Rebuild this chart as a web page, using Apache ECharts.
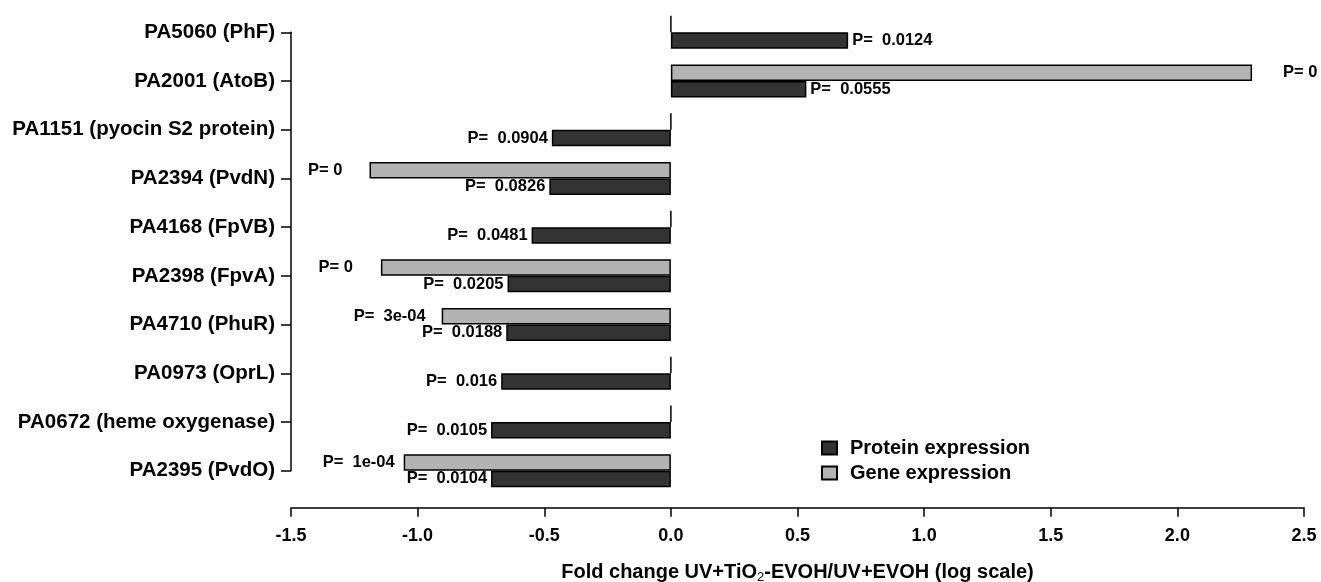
<!DOCTYPE html>
<html>
<head>
<meta charset="utf-8">
<script src="https://cdn.jsdelivr.net/npm/echarts@6/dist/echarts.min.js"></script>
<style>
html,body{margin:0;padding:0;background:#fff;}
#c{width:1321px;height:582px;}
</style>
</head>
<body>
<div id="c"></div>
<script>
var categories = ['PA5060 (PhF)', 'PA2001 (AtoB)', 'PA1151 (pyocin S2 protein)', 'PA2394 (PvdN)', 'PA4168 (FpVB)', 'PA2398 (FpvA)', 'PA4710 (PhuR)', 'PA0973 (OprL)', 'PA0672 (heme oxygenase)', 'PA2395 (PvdO)'];
var proteinValues = [0.70, 0.535, -0.47, -0.48, -0.55, -0.645, -0.65, -0.67, -0.71, -0.71];
var geneValues = [0, 2.295, 0, -1.19, 0, -1.145, -0.905, 0, 0, -1.055];
var proteinP = ['0.0124', '0.0555', '0.0904', '0.0826', '0.0481', '0.0205', '0.0188', '0.016', '0.0105', '0.0104'];
var geneP = ['', '0', '', '0', '', '0', '3e-04', '', '', '1e-04'];
var xTicks = [-1.5, -1.0, -0.5, 0.0, 0.5, 1.0, 1.5, 2.0, 2.5];

// label gaps (px) for gene p-values
var geneLabelGap = [0, 31, 0, 27, 0, 28, 16, 0, 0, 9];

var FONT = 'Liberation Sans';

function pText(p) {
  return p === '0' ? 'P= 0' : 'P=  ' + p;
}

var proteinData = proteinValues.map(function (v, i) {
  return {
    value: v,
    label: {
      show: true,
      position: v >= 0 ? 'right' : 'left',
      distance: 4,
      formatter: pText(proteinP[i])
    }
  };
});
var geneData = geneValues.map(function (v, i) {
  var has = geneP[i] !== '';
  return {
    value: v,
    label: {
      show: has,
      position: v >= 0 ? 'right' : 'left',
      distance: geneLabelGap[i],
      formatter: has ? pText(geneP[i]) : ''
    }
  };
});

var labelStyle = {
  fontFamily: FONT,
  fontWeight: 'bold',
  fontSize: 16.5,
  color: '#000'
};

var chart = echarts.init(document.getElementById('c'), null, {renderer: 'canvas'});
chart.setOption({
  animation: false,
  backgroundColor: '#fff',
  grid: {left: 291, right: 17, top: 32.3, bottom: 111.3, containLabel: false, outerBoundsMode: 'none'},
  legend: {
    orient: 'vertical',
    left: 816,
    top: 433,
    icon: 'rect',
    itemWidth: 15,
    itemHeight: 13,
    itemGap: 5,
    data: ['Protein expression', 'Gene expression'],
    textStyle: {fontFamily: FONT, fontWeight: 'bold', fontSize: 20, color: '#000', padding: [0, 0, 0, 8]}
  },
  xAxis: {
    type: 'value',
    min: -1.5,
    max: 2.5,
    interval: 0.5,
    offset: 37,
    position: 'bottom',
    splitLine: {show: false},
    axisLine: {show: true, onZero: false, lineStyle: {color: '#000', width: 1.5}},
    axisTick: {show: true, length: 9, lineStyle: {color: '#000', width: 1.5}},
    axisLabel: {
      fontFamily: FONT, fontWeight: 'bold', fontSize: 18, color: '#000', margin: 19,
      formatter: function (v) { return v.toFixed(1); }
    },
    name: 'Fold change UV+TiO{sub|2}-EVOH/UV+EVOH (log scale)',
    nameLocation: 'middle',
    nameGap: 54,
    nameTextStyle: {
      fontFamily: FONT, fontWeight: 'bold', fontSize: 20, color: '#000',
      rich: {sub: {fontFamily: FONT, fontWeight: 'normal', fontSize: 13, color: '#000', verticalAlign: 'bottom', padding: [9, 0, 0, 0]}}
    }
  },
  yAxis: {
    type: 'category',
    data: categories,
    inverse: true,
    boundaryGap: false,
    axisLine: {show: true, onZero: false, lineStyle: {color: '#000', width: 1.5}},
    axisTick: {show: true, length: 10, lineStyle: {color: '#000', width: 1.5}},
    axisLabel: {fontFamily: FONT, fontWeight: 'bold', fontSize: 20.5, color: '#000', margin: 16, interval: 0},
    splitLine: {show: false}
  },
  series: [
    {
      name: 'Gene expression',
      type: 'bar',
      data: geneData,
      barWidth: 16.5,
      barGap: '0%',
      clip: false,
      itemStyle: {color: '#b3b3b3', borderColor: '#000', borderWidth: 1.5},
      label: labelStyle
    },
    {
      name: 'Protein expression',
      type: 'bar',
      data: proteinData,
      barWidth: 16.5,
      barGap: '0%',
      clip: false,
      itemStyle: {color: '#333333', borderColor: '#000', borderWidth: 1.5},
      label: labelStyle
    }
  ]
});
</script>
</body>
</html>
